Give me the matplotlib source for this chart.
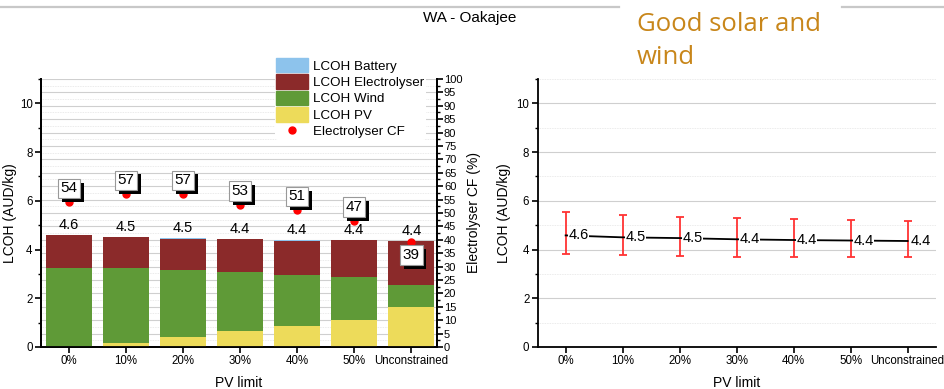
import matplotlib
matplotlib.use("Agg")
import matplotlib.pyplot as plt
import matplotlib.patheffects as pe
from matplotlib.ticker import MultipleLocator
from matplotlib.patches import Patch
from matplotlib.lines import Line2D
import numpy as np

# ── data ────────────────────────────────────────────────────────────────────
categories = ["0%", "10%", "20%", "30%", "40%", "50%", "Unconstrained"]
lcoh_pv = [0.00, 0.18, 0.41, 0.65, 0.87, 1.09, 1.64]
lcoh_wind = [3.26, 3.06, 2.76, 2.44, 2.10, 1.78, 0.90]
lcoh_elec = [1.35, 1.28, 1.27, 1.35, 1.40, 1.53, 1.83]
lcoh_batt = [0.00, 0.00, 0.04, 0.00, 0.02, 0.00, 0.00]
total_labels = [4.6, 4.5, 4.5, 4.4, 4.4, 4.4, 4.4]
elec_cf = [54, 57, 57, 53, 51, 47, 39]

lcoh_mid = [4.58, 4.50, 4.47, 4.42, 4.39, 4.37, 4.35]
lcoh_low = [3.83, 3.77, 3.74, 3.71, 3.70, 3.68, 3.68]
lcoh_high = [5.52, 5.42, 5.35, 5.30, 5.26, 5.21, 5.16]

C_BATT = "#8DC3EC"
C_ELEC = "#8B2A2A"
C_WIND = "#5F9A37"
C_PV = "#EDDB5A"
GOLD = "#C8861A"

plt.rcParams["font.family"] = ["Liberation Sans", "DejaVu Sans"]

fig = plt.figure(figsize=(9.45, 3.89), dpi=100)

# header strip
fig.add_artist(Line2D([0, 0.655], [0.983, 0.983], color="#c8c8c8", lw=1.6))
fig.add_artist(Line2D([0.891, 1.0], [0.983, 0.983], color="#c8c8c8", lw=1.6))
fig.text(0.497, 0.953, "WA - Oakajee", ha="center", va="center", fontsize=11)
fig.text(0.674, 0.968, "Good solar and\nwind", ha="left", va="top",
         fontsize=18.5, color=GOLD, family="Open Sans", linespacing=1.4)

x = np.arange(len(categories))

# ── left: stacked LCOH bars + electrolyser CF ───────────────────────────────
ax = fig.add_axes([0.0434, 0.108, 0.419, 0.689])
ax2 = ax.twinx()
ax.set_zorder(ax2.get_zorder() + 1)
ax.patch.set_visible(False)

w = 0.8
b0 = np.zeros(len(x))
for vals, col in [(lcoh_pv, C_PV), (lcoh_wind, C_WIND), (lcoh_elec, C_ELEC), (lcoh_batt, C_BATT)]:
    ax.bar(x, vals, w, bottom=b0, color=col, edgecolor="none", zorder=2)
    b0 = b0 + np.array(vals)

for xi, top, lab in zip(x, b0, total_labels):
    ax.annotate(f"{lab:.1f}", (xi, top), xytext=(0, 2), textcoords="offset points",
                ha="center", va="bottom", fontsize=10.5, zorder=4)

ymax = 11.0
ax.set_ylim(0, ymax)
ax.set_xlim(-0.49, 6.45)
ax2.set_ylim(0, 100)

ax.plot(x, np.array(elec_cf) / 100 * ymax, "o", color="red", ms=5, zorder=5)
for i, (xi, cf) in enumerate(zip(x, elec_cf)):
    dy = -9 if i == len(x) - 1 else 10
    t = ax.annotate(f"{cf}", (xi, cf / 100 * ymax), xytext=(0, dy), textcoords="offset points",
                    ha="center", va="center", fontsize=11, zorder=6,
                    bbox=dict(boxstyle="square,pad=0.18", fc="white", ec="#999999", lw=0.8))
    t.get_bbox_patch().set_path_effects([
        pe.SimplePatchShadow(offset=(2.8, -2.8), shadow_rgbFace="black", alpha=1),
        pe.Normal()])

ax2.yaxis.set_major_locator(MultipleLocator(5))
ax2.yaxis.set_minor_locator(MultipleLocator(2.5))
ax2.grid(True, which="major", color="#cfcfcf", lw=0.8)
ax2.grid(True, which="minor", color="#e4e4e4", lw=0.6, ls=(0, (1, 1)))
ax2.set_axisbelow(True)

ax.yaxis.set_major_locator(MultipleLocator(2))
ax.yaxis.set_minor_locator(MultipleLocator(1))
ax.set_xticks(x)
ax.set_xticklabels(categories)
ax.set_ylabel("LCOH (AUD/kg)", fontsize=10, labelpad=2)
ax.set_xlabel("PV limit", fontsize=10, labelpad=6)
ax2.set_ylabel("Electrolyser CF (%)", fontsize=10, labelpad=3)

for a in (ax, ax2):
    for s in a.spines.values():
        s.set_linewidth(1.3)
    a.spines["top"].set_visible(False)
    a.tick_params(which="major", length=4, width=1.2, labelsize=8.3, pad=2)
    a.tick_params(which="minor", length=2.5, width=1.0)
ax2.tick_params(axis="y", labelsize=8, pad=1)

handles = [Patch(color=C_BATT), Patch(color=C_ELEC), Patch(color=C_WIND), Patch(color=C_PV),
           Line2D([], [], marker="o", ls="none", color="red", ms=5)]
labels = ["LCOH Battery", "LCOH Electrolyser", "LCOH Wind", "LCOH PV", "Electrolyser CF"]
leg = fig.legend(handles, labels, loc="upper left", bbox_to_anchor=(0.284, 0.872),
                 fontsize=9.6, frameon=True, framealpha=1, edgecolor="none",
                 handlelength=2.4, handleheight=1.3, labelspacing=0.13,
                 borderpad=0.1, handletextpad=0.35)

# ── right: LCOH with range ──────────────────────────────────────────────────
bx = fig.add_axes([0.569, 0.108, 0.421, 0.689])
mid = np.array(lcoh_mid)
err = [mid - np.array(lcoh_low), np.array(lcoh_high) - mid]
bx.errorbar(x, mid, yerr=err, fmt="none", ecolor="#FF3333", elinewidth=1.3,
            capsize=2.7, capthick=1.3, zorder=3)
bx.plot(x, mid, color="black", lw=1.3, zorder=4)
for xi, m, lab in zip(x, mid, total_labels):
    bx.annotate(f"{lab:.1f}", (xi, m), xytext=(2, 0), textcoords="offset points",
                ha="left", va="center", fontsize=10.5, zorder=5,
                bbox=dict(boxstyle="square,pad=0.05", fc="white", ec="none"))

bx.set_ylim(0, ymax)
bx.set_xlim(-0.49, 6.49)
bx.yaxis.set_major_locator(MultipleLocator(2))
bx.yaxis.set_minor_locator(MultipleLocator(1))
bx.grid(True, axis="y", which="major", color="#cfcfcf", lw=0.8)
bx.grid(True, axis="y", which="minor", color="#e4e4e4", lw=0.6, ls=(0, (1, 1)))
bx.set_axisbelow(True)
bx.set_xticks(x)
bx.set_xticklabels(categories)
bx.set_ylabel("LCOH (AUD/kg)", fontsize=10)
bx.set_xlabel("PV limit", fontsize=10, labelpad=6)
bx.spines["top"].set_visible(False)
bx.spines["right"].set_visible(False)
for s in ("left", "bottom"):
    bx.spines[s].set_linewidth(1.3)
bx.tick_params(which="major", length=4, width=1.2, labelsize=8.3, pad=2)
bx.tick_params(which="minor", length=2.5, width=1.0)

fig.savefig("out.png", dpi=100)
